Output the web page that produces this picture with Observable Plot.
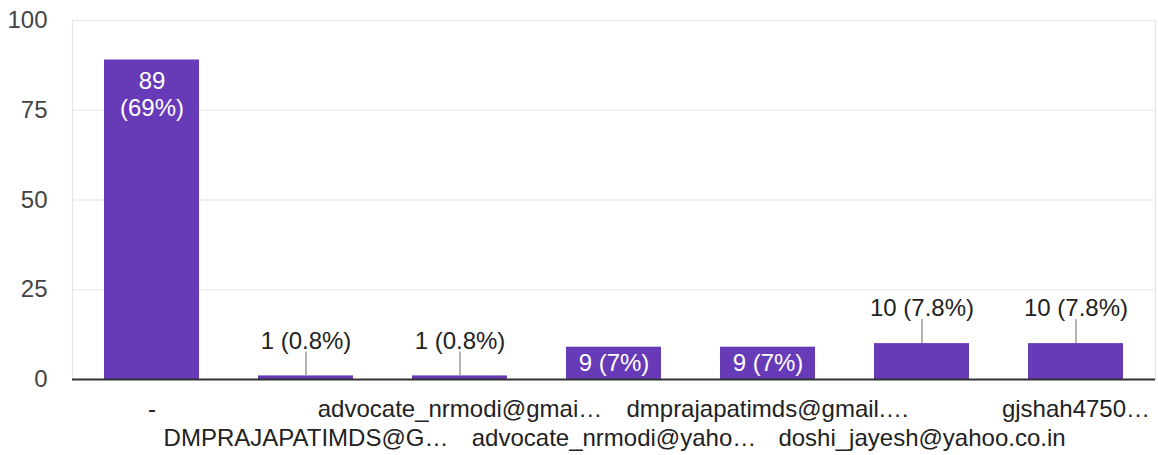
<!DOCTYPE html>
<html>
<head>
<meta charset="utf-8">
<script src="https://cdn.jsdelivr.net/npm/d3@7"></script>
<script src="https://cdn.jsdelivr.net/npm/@observablehq/plot@0.6"></script>
<style>
  html, body { margin: 0; padding: 0; background: #fff; }
  #chart { width: 1158px; height: 455px; }
</style>
</head>
<body>
<div id="chart"></div>
<script>
const categories = [
  "-",
  "DMPRAJAPATIMDS@G…",
  "advocate_nrmodi@gmai…",
  "advocate_nrmodi@yaho…",
  "dmprajapatimds@gmail.…",
  "doshi_jayesh@yahoo.co.in",
  "gjshah4750…"
];
const counts = [89, 1, 1, 9, 9, 10, 10];
const percents = ["69", "0.8", "0.8", "7", "7", "7.8", "7.8"];
const yTicks = [0, 25, 50, 75, 100];

const data = categories.map((c, i) => {
  const single = `${counts[i]} (${percents[i]}%)`;
  let mode;
  if (counts[i] > 50) mode = "inside2";
  else if (counts[i] >= 5 && single.length <= 7) mode = "inside";
  else mode = "outside";
  return {cat: c, value: counts[i], single, double: `${counts[i]}\n(${percents[i]}%)`, mode};
});

const row1 = categories.filter((_, i) => i % 2 === 0);
const row2 = categories.filter((_, i) => i % 2 === 1);
const FONT = "'Liberation Sans', Arial, Helvetica, sans-serif";

const chart = Plot.plot({
  width: 1158,
  height: 455,
  marginLeft: 72,
  marginRight: 3,
  marginTop: 20,
  marginBottom: 76,
  style: {fontFamily: FONT, fontSize: "24px", background: "#fff"},
  x: {domain: categories, paddingInner: 0.38, paddingOuter: 0.19, axis: null, label: null},
  y: {domain: [0, 100], axis: null, label: null},
  marks: [
    Plot.ruleY(yTicks, {stroke: "#e6e6e6", strokeWidth: 1.2}),
    Plot.frame({stroke: "#e6e6e6", strokeWidth: 1.2}),
    Plot.axisY({ticks: yTicks, tickSize: 0, tickPadding: 25, fontSize: 24, fill: "#444", textAnchor: "end", label: null}),
    Plot.barY(data, {x: "cat", y: "value", fill: "#673ab7"}),
    Plot.ruleY([0], {stroke: "#333", strokeWidth: 2}),
    Plot.axisX({ticks: row1, tickSize: 0, tickPadding: 20, fontSize: 24, fill: "#222", label: null}),
    Plot.axisX({ticks: row2, tickSize: 0, tickPadding: 49, fontSize: 24, fill: "#222", label: null}),
    Plot.text(data.filter(d => d.mode === "inside"), {x: "cat", y: d => d.value / 2, text: "single", fill: "#fff", fontSize: 24}),
    Plot.text(data.filter(d => d.mode === "inside2"), {x: "cat", y: "value", text: "double", fill: "#fff", fontSize: 24, lineAnchor: "top", dy: 9, lineHeight: 1.15}),
    Plot.ruleX(data.filter(d => d.mode === "outside"), {x: "cat", y1: "value", y2: "value", insetBottom: 24, stroke: "#999", strokeWidth: 1.5}),
    Plot.text(data.filter(d => d.mode === "outside"), {x: "cat", y: "value", text: "single", fill: "#222", fontSize: 24, dy: -35})
  ]
});
document.getElementById("chart").appendChild(chart);
</script>
</body>
</html>
